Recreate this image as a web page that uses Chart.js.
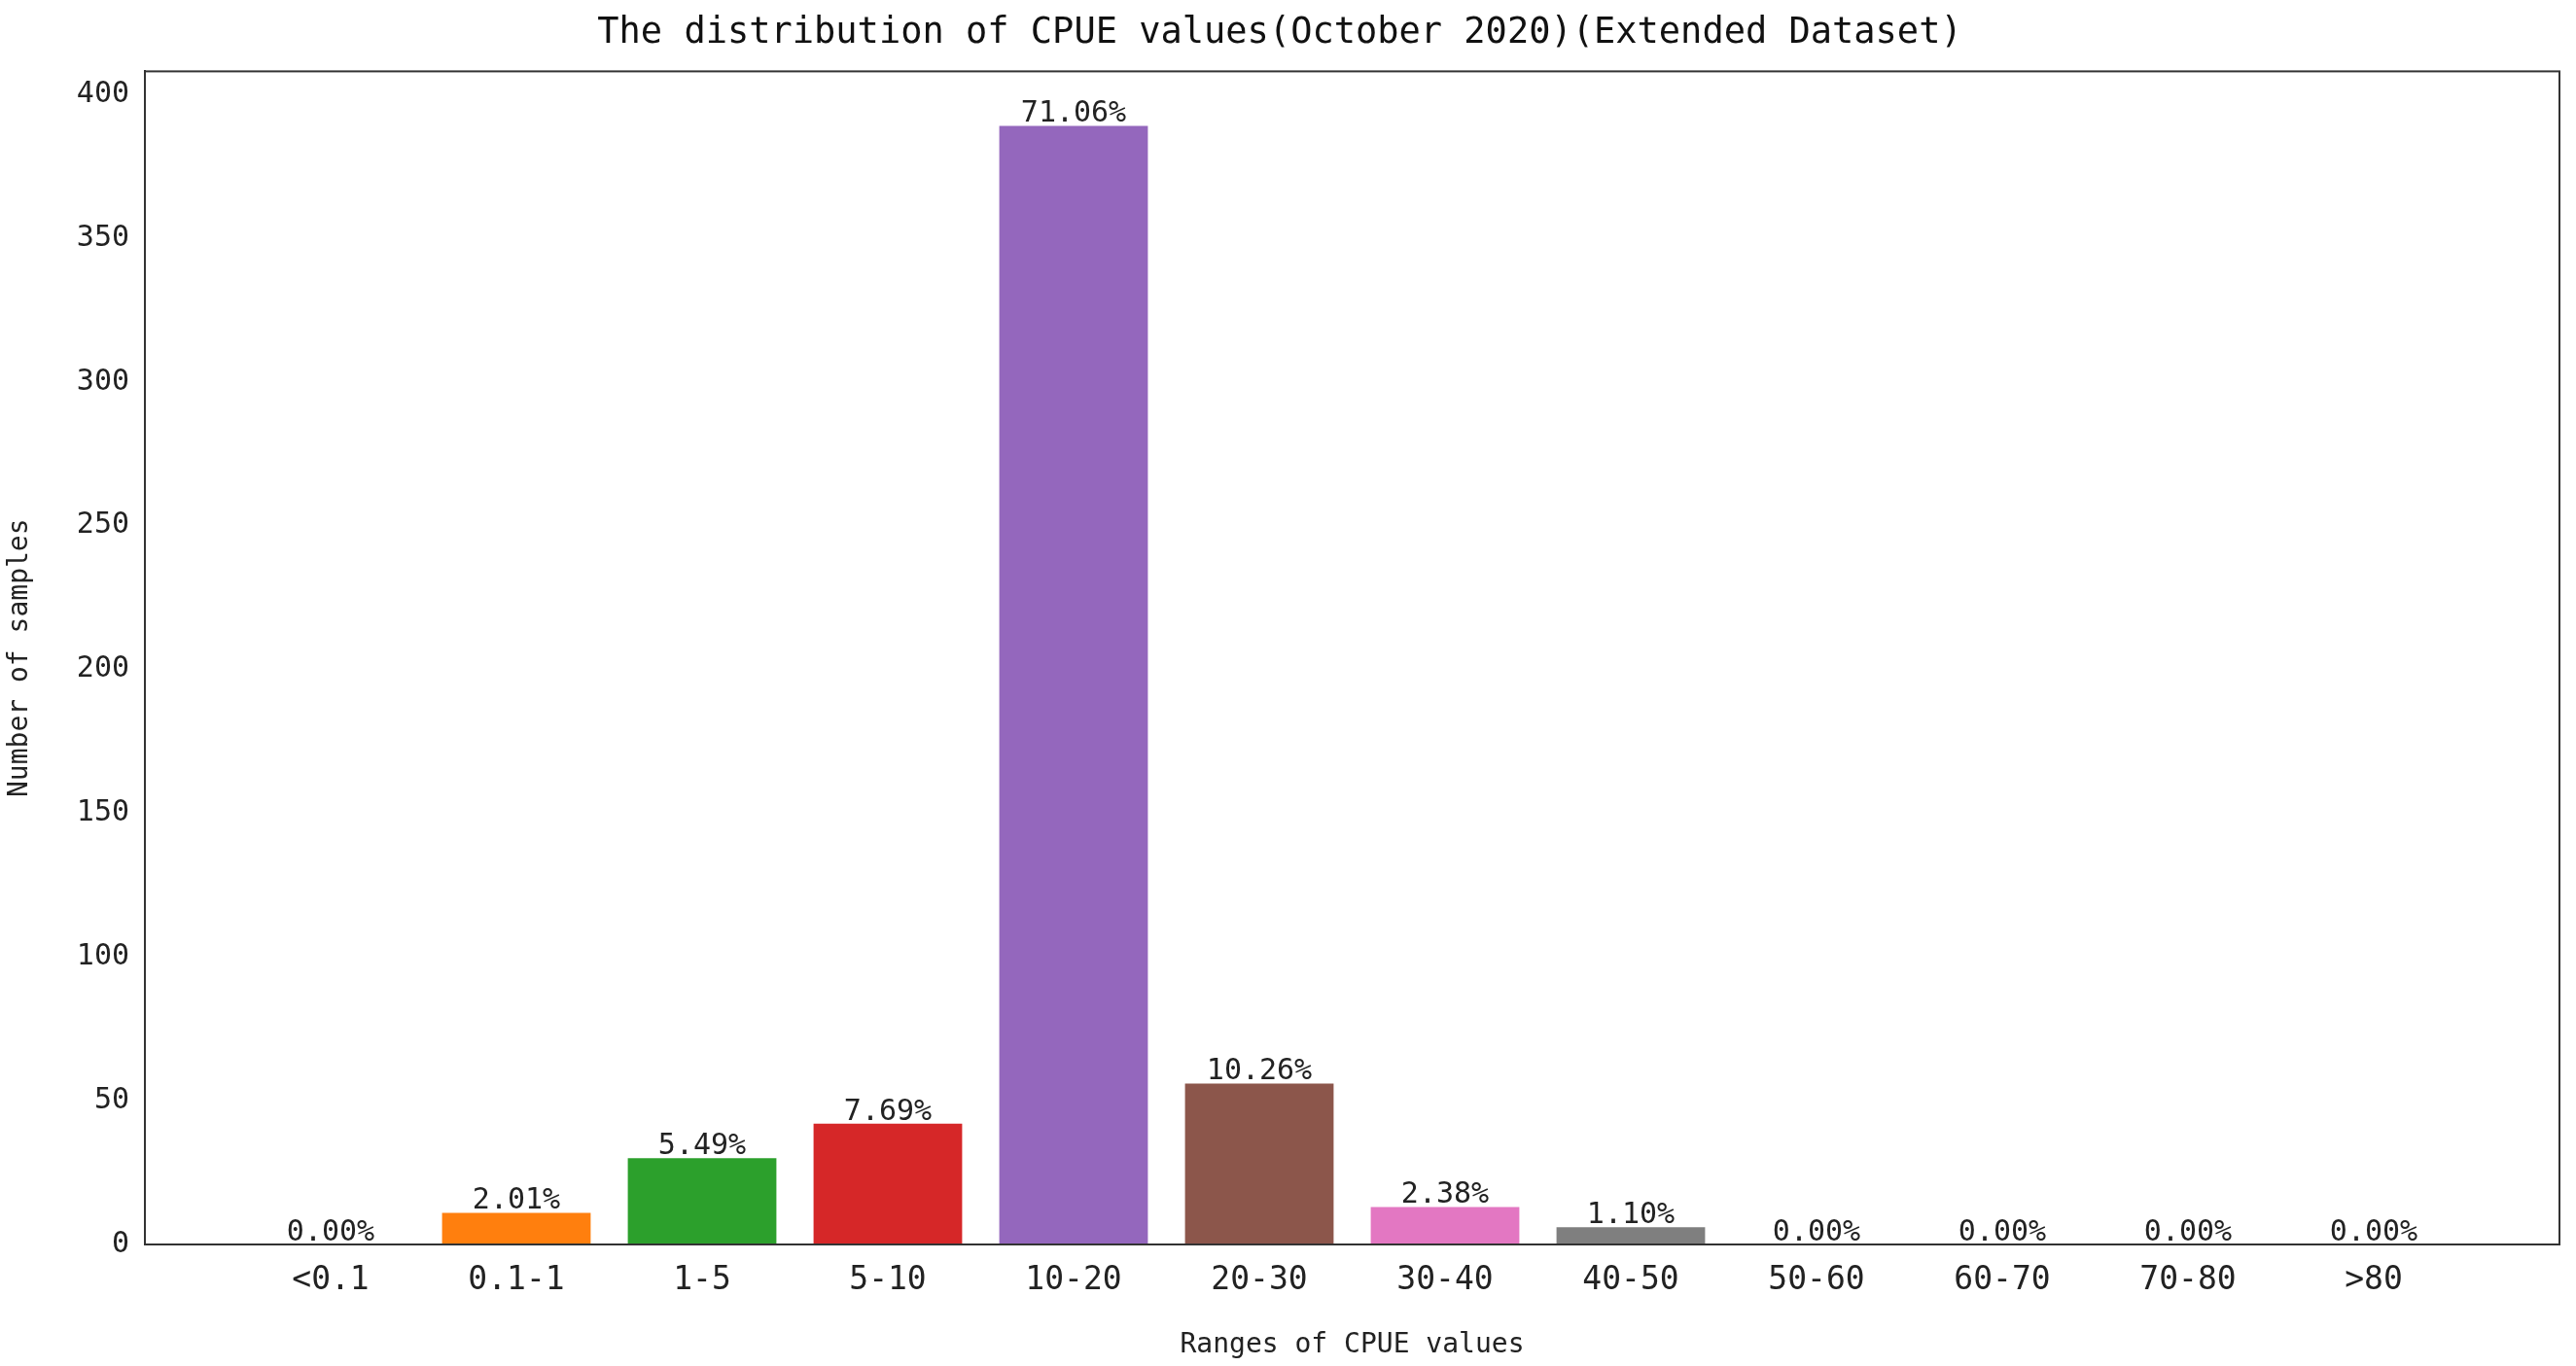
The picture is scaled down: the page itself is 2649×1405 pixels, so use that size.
<!DOCTYPE html>
<html><head><meta charset="utf-8">
<script src="https://cdn.jsdelivr.net/npm/chart.js@4"></script>
<style>html,body{margin:0;padding:0;background:#fff}#wrap{width:2649px;height:1405px}</style>
</head><body><div id="wrap"><canvas id="c"></canvas></div>
<script>
const categories = ['<0.1','0.1-1','1-5','5-10','10-20','20-30','30-40','40-50','50-60','60-70','70-80','>80'];
const counts = [0,11,30,42,389,56,13,6,0,0,0,0];
const percentLabels = ['0.00%','2.01%','5.49%','7.69%','71.06%','10.26%','2.38%','1.10%','0.00%','0.00%','0.00%','0.00%'];
const yTicks = [0,50,100,150,200,250,300,350,400];
const colors = ['#1f77b4','#ff7f0e','#2ca02c','#d62728','#9467bd','#8c564b','#e377c2','#7f7f7f','#bcbd22','#17becf','#1f77b4','#ff7f0e'];

const labels = [''].concat(categories, ['']);
const data = [null].concat(counts, [null]);
const bg = ['#fff'].concat(colors, ['#fff']);
const FONT = "'DejaVu Sans Mono', monospace";

const overlay = {
  id:'overlay',
  afterDatasetsDraw(chart){
    const ctx = chart.ctx, a = chart.chartArea;
    const meta = chart.getDatasetMeta(0);
    ctx.save();
    ctx.font = "30px " + FONT;
    ctx.fillStyle = '#222';
    ctx.textAlign = 'center'; ctx.textBaseline = 'bottom';
    counts.forEach((v,i)=>{
      const el = meta.data[i+1];
      ctx.fillText(percentLabels[i], el.x, el.y + 3);
    });
    ctx.strokeStyle = '#333'; ctx.lineWidth = 2;
    ctx.strokeRect(a.left, a.top, a.right - a.left, a.bottom - a.top);
    ctx.restore();
  }
};

new Chart(document.getElementById('c'), {
  type:'bar',
  data:{labels, datasets:[{data, backgroundColor:bg, barPercentage:0.8, categoryPercentage:1}]},
  options:{
    responsive:true, maintainAspectRatio:false, animation:false,
    layout:{padding:{left:0,right:17,top:0,bottom:0}},
    plugins:{
      legend:{display:false}, tooltip:{enabled:false},
      title:{display:true, text:'The distribution of CPUE values(October 2020)(Extended Dataset)',
        color:'#111', font:{family:FONT, size:37, weight:'normal'}, padding:{top:12,bottom:17}}
    },
    scales:{
      x:{
        offset:false,
        grid:{display:false, drawTicks:true, tickLength:12, tickColor:'#333'},
        border:{display:true,color:'#333',width:2},
        ticks:{color:'#222', font:{family:FONT,size:33}, maxRotation:0, autoSkip:false, padding:6},
        title:{display:true, text:'Ranges of CPUE values', color:'#222', font:{family:FONT,size:28}, padding:{top:0}},
        afterFit(s){ s.height = 125; }
      },
      y:{
        min:0, max:408,
        afterBuildTicks(s){ s.ticks = yTicks.map(v=>({value:v})); },
        grid:{display:false, drawTicks:true, tickLength:10, tickColor:'#333'},
        border:{display:true,color:'#333',width:2},
        ticks:{color:'#222', font:{family:FONT,size:30}, padding:6},
        title:{display:true, text:'Number of samples', color:'#222', font:{family:FONT,size:28}},
        afterFit(s){ s.width = 149; }
      }
    }
  },
  plugins:[overlay]
});
</script></body></html>
